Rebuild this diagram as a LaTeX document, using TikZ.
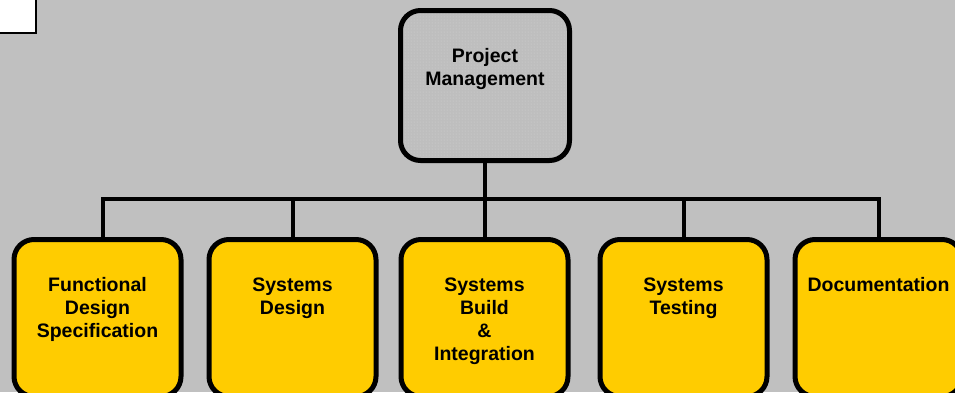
\documentclass[tikz,border=0pt]{standalone}
\usepackage{fontspec}
\setmainfont{Liberation Sans}
\usetikzlibrary{patterns}
\definecolor{bggray}{HTML}{C0C0C0}
\definecolor{pmgray}{HTML}{BEBEBE}
\definecolor{dotgray}{HTML}{D4D4D4}
\definecolor{taskyellow}{HTML}{FFCC00}
% label text sits near the top of each box
\newcommand{\wbslabel}[2]{\parbox[c][#1][t]{160pt}{\centering\vspace*{38pt}#2}}
\begin{document}
\begin{tikzpicture}[x=1pt,y=-1pt,
    wbsbox/.style={draw,line width=5pt,rounded corners=20pt,inner sep=0pt,
      font=\bfseries\fontsize{19.5}{23}\selectfont},
    pmbox/.style={wbsbox,minimum width=169pt,minimum height=150pt,
      preaction={fill=pmgray},pattern=dots,pattern color=dotgray},
    taskbox/.style={wbsbox,minimum width=167pt,minimum height=157pt,fill=taskyellow},
    link/.style={line width=4pt}]
  \useasboundingbox (0,0) rectangle (955,392);
  \fill[bggray] (0,0) rectangle (955,392);
  \draw[line width=2pt,fill=white] (-5,-5) rectangle (36,33);

  \node[pmbox] (pm) at (485,85.5){\wbslabel{150pt}{Project\\Management}};
  \node[taskbox] (fds) at (97.5,318){\wbslabel{157pt}{Functional\\Design\\Specification}};
  \node[taskbox] (sd) at (292.5,318){\wbslabel{157pt}{Systems\\Design}};
  \node[taskbox] (sbi) at (484.5,318){\wbslabel{157pt}{Systems\\Build\\\&\\Integration}};
  \node[taskbox] (st) at (683.5,318){\wbslabel{157pt}{Systems\\Testing}};
  \node[taskbox] (doc) at (878.5,318){\wbslabel{157pt}{Documentation}};
  \coordinate (bus) at (0,199);

  \draw[link] (pm.south) -- (pm.south |- bus);
  \draw[link] ([xshift=5pt]fds.north) -- ([xshift=5pt]fds.north |- bus) -- (doc.north |- bus) -- (doc.north);
  \draw[link] (sd.north) -- (sd.north |- bus);
  \draw[link] (sbi.north) -- (sbi.north |- bus);
  \draw[link] (st.north) -- (st.north |- bus);
\end{tikzpicture}
\end{document}
